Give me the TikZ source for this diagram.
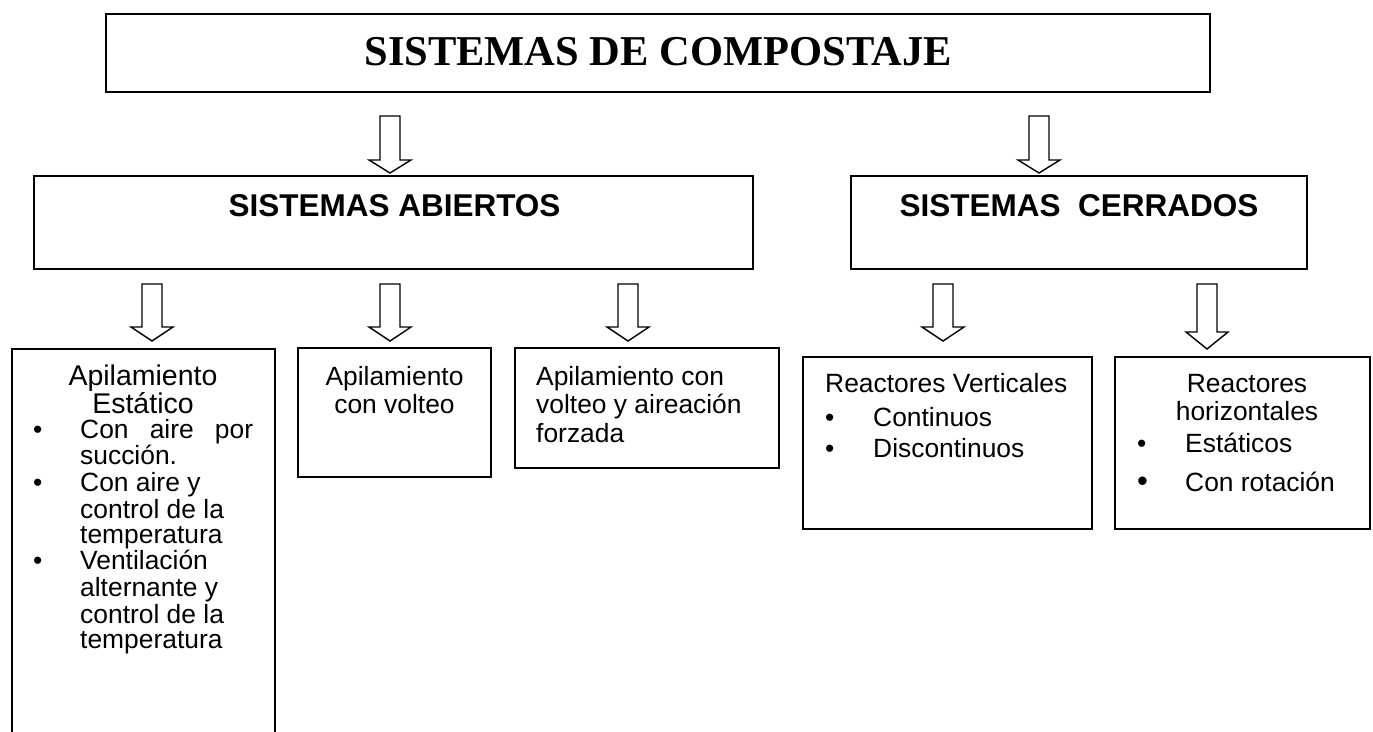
\documentclass[tikz,border=0pt]{standalone}
\usepackage{fontspec}
\setmainfont{Liberation Sans}
\newfontfamily\serifti{Liberation Serif}
\newcommand\blt{\makebox[68pt][l]{\hspace{21pt}\textbullet}}
\newcommand\bltb{\makebox[48pt][l]{\textbullet}}
\newcommand\bltbig{\makebox[48pt][l]{{\fontsize{31pt}{31pt}\selectfont\textbullet}}}
\newcommand\blockarrow[4]{%
  \draw[arrowst] ({#1-10},#2) -- ({#1+10},#2) -- ({#1+10},#3) -- ({#1+21},#3) -- (#1,#4) -- ({#1-21},#3) -- ({#1-10},#3) -- cycle;}
\begin{document}
\begin{tikzpicture}[x=1pt,y=-1pt,
  box/.style={draw, line width=2pt, inner sep=0pt, outer sep=0pt, anchor=north west},
  arrowst/.style={draw, line width=1.4pt, fill=white, line join=miter},
  ttl/.style={font=\serifti\bfseries\fontsize{42.5pt}{48pt}\selectfont, inner sep=0pt},
  hdr/.style={font=\bfseries\fontsize{31.5pt}{36pt}\selectfont, inner sep=0pt},
  body/.style={font=\fontsize{26.4pt}{28pt}\selectfont, inner sep=0pt}]
\useasboundingbox[fill=white] (0,0) rectangle (1373,731);
% boxes
\node[box, line width=2.3pt, minimum width=1104pt, minimum height=78pt] (title) at (106,14) {};
\node[box, minimum width=719pt, minimum height=93pt] (abiertos) at (34,176) {};
\node[box, minimum width=456pt, minimum height=93pt] (cerrados) at (851,176) {};
\node[box, minimum width=263pt, minimum height=420pt] (estatico) at (12,349) {};
\node[box, minimum width=193pt, minimum height=129pt] (volteo) at (298,348) {};
\node[box, minimum width=264pt, minimum height=120pt] (forzada) at (515,348) {};
\node[box, minimum width=289pt, minimum height=172pt] (verticales) at (803,357) {};
\node[box, minimum width=255pt, minimum height=172pt] (horizontales) at (1115,357) {};
% arrows
\blockarrow{390}{116}{160}{173}
\blockarrow{1039}{116}{160}{173}
\blockarrow{152}{284}{327}{341}
\blockarrow{390}{284}{327}{341}
\blockarrow{628}{284}{327}{341}
\blockarrow{943}{284}{327}{341}
\blockarrow{1207}{284}{332}{349}
% texts
\node[ttl, anchor=base] (ttltxt) at (658,65) {SISTEMAS DE COMPOSTAJE};
\node[hdr, anchor=base] (abtxt) at (394.5,216) {SISTEMAS ABIERTOS};
\node[hdr, anchor=base] (cetxt) at (1079,216) {SISTEMAS\ \ CERRADOS};
\node[body, font=\fontsize{28.5pt}{25pt}\selectfont, anchor=base] (esthead) at (143,385)
  {\begin{tabular}[t]{@{}c@{}}Apilamiento\\Estático\end{tabular}};
\node[body, font=\fontsize{26.4pt}{24.9pt}\selectfont, anchor=base west] (estlist) at (12,438)
  {\begin{tabular}[t]{@{}l@{}l@{}}
   \blt & \makebox[173pt][l]{Con\hfill aire\hfill por}\\
        & succión.\\
   \blt & Con aire y\\
        & control de la\\
        & temperatura\\
   \blt & Ventilación\\
        & alternante y\\
        & control de la\\
        & temperatura
   \end{tabular}};
\node[body, anchor=base] (volteotxt) at (394.5,385)
  {\begin{tabular}[t]{@{}c@{}}Apilamiento\\con volteo\end{tabular}};
\node[body, font=\fontsize{26.4pt}{28.5pt}\selectfont, anchor=base west] (forzadatxt) at (536,385)
  {\begin{tabular}[t]{@{}l@{}}Apilamiento con\\volteo y aireación\\forzada\end{tabular}};
\node[body, font=\fontsize{26.4pt}{31pt}\selectfont, anchor=base west] (verttxt) at (825,392)
  {\begin{tabular}[t]{@{}l@{}l@{}}
   \multicolumn{2}{@{}l@{}}{Reactores Verticales}\\[3pt]
   \bltb & Continuos\\
   \bltb & Discontinuos
   \end{tabular}};
\node[body, font=\fontsize{26.4pt}{28.5pt}\selectfont, anchor=base] (horizhead) at (1247,392)
  {\begin{tabular}[t]{@{}c@{}}Reactores\\horizontales\end{tabular}};
\node[body, font=\fontsize{26.4pt}{39.5pt}\selectfont, anchor=base west] (horizlist) at (1137,452)
  {\begin{tabular}[t]{@{}l@{}l@{}}
   \bltb & Estáticos\\
   \bltbig & Con rotación
   \end{tabular}};
\end{tikzpicture}
\end{document}
